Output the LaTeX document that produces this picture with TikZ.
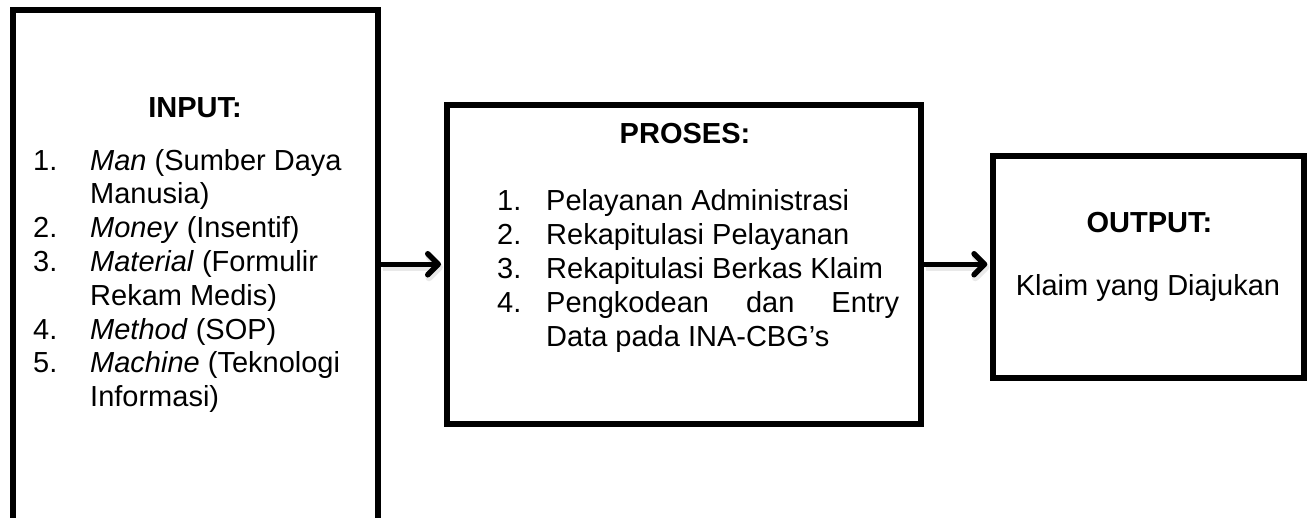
\documentclass[tikz,border=0pt]{standalone}
\usepackage{fontspec}
\setmainfont{Liberation Sans}
\usetikzlibrary{arrows.meta}
\begin{document}
\begin{tikzpicture}[x=1pt,y=-1pt,
  box/.style={draw, line width=6pt, inner sep=0pt},
  txt/.style={anchor=base west, inner sep=0pt, font=\fontsize{29}{34}\selectfont},
  head/.style={anchor=base, inner sep=0pt, font=\fontsize{29}{34}\selectfont\bfseries},
  mid/.style={anchor=base, inner sep=0pt, font=\fontsize{29}{34}\selectfont},
  conn/.style={line width=5.5pt, -{Straight Barb[length=10.5pt,width=21pt,round]}, shorten >=3pt,
    preaction={draw=black!25, opacity=0.35, line width=7pt, transform canvas={shift={(2pt,-3pt)}}}}]
\useasboundingbox (0,0) rectangle (1311,517);
% boxes
\node[box, minimum width=365.5pt, minimum height=540pt] (in) at (195.25,280) {};
\node[box, minimum width=474pt, minimum height=319.5pt] (pr) at (684,264.25) {};
\node[box, minimum width=310.7pt, minimum height=221.7pt] (out) at (1148.65,266.65) {};
% input text
\node[head] (inh) at (195,117) {INPUT:};
\node[txt] (in1n) at (33,170) {1.};
\node[txt] (in1a) at (90,170) {\textit{Man} (Sumber Daya};
\node[txt] (in1b) at (90,203.8) {Manusia)};
\node[txt] (in2n) at (33,237.6) {2.};
\node[txt] (in2a) at (90,237.6) {\textit{Money} (Insentif)};
\node[txt] (in3n) at (33,271.4) {3.};
\node[txt] (in3a) at (90,271.4) {\textit{Material} (Formulir};
\node[txt] (in3b) at (90,305.2) {Rekam Medis)};
\node[txt] (in4n) at (33,339) {4.};
\node[txt] (in4a) at (90,339) {\textit{Method} (SOP)};
\node[txt] (in5n) at (33,372.8) {5.};
\node[txt] (in5a) at (90,372.8) {\textit{Machine} (Teknologi};
\node[txt] (in5b) at (90,406.6) {Informasi)};
% proses text
\node[head] (prh) at (685,143) {PROSES:};
\node[txt] (pr1n) at (497,210) {1.};
\node[txt] (pr1a) at (546,210) {Pelayanan Administrasi};
\node[txt] (pr2n) at (497,244.2) {2.};
\node[txt] (pr2a) at (546,244.2) {Rekapitulasi Pelayanan};
\node[txt] (pr3n) at (497,278.4) {3.};
\node[txt] (pr3a) at (546,278.4) {Rekapitulasi Berkas Klaim};
\node[txt] (pr4n) at (497,312.6) {4.};
\node[txt] (pr4a) at (546,312.6) {\makebox[353pt][s]{Pengkodean dan Entry}};
\node[txt] (pr4b) at (546,346.8) {Data pada INA-CBG’s};
% output text
\node[head] (outh) at (1149.5,232) {OUTPUT:};
\node[mid] (out1) at (1148,295) {Klaim yang Diajukan};
% connectors
\draw[conn] (in.east |- pr.west) -- (pr.west);
\draw[conn] (pr.east) -- (pr.east -| out.west);
\end{tikzpicture}
\end{document}
